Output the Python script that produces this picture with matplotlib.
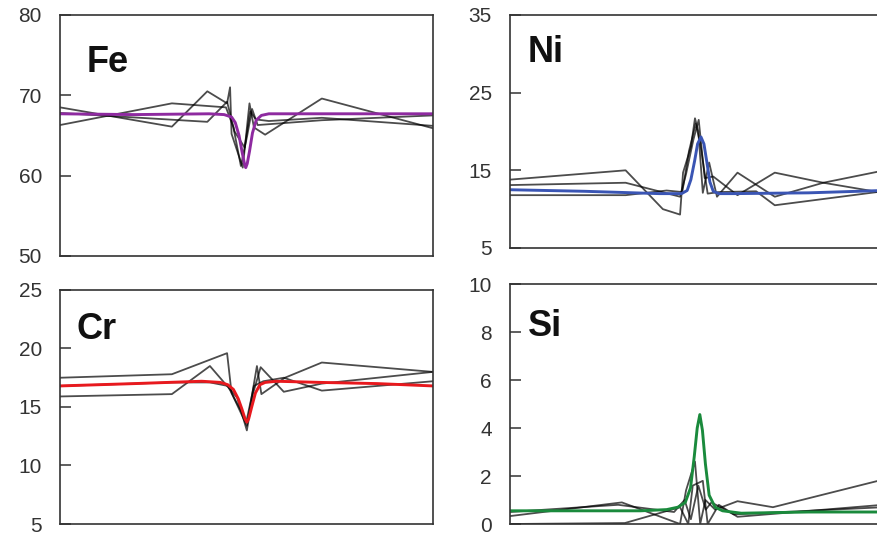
import numpy as np
import matplotlib.pyplot as plt

plt.rcParams['font.family'] = ['Liberation Sans', 'DejaVu Sans']

# --- Fe: three measured line scans + fitted profile ---
fe_x1 = [0, 30, 39.5, 44.8, 45.6, 46.0, 49.0, 50.8, 52.0, 55.0, 70.2, 100]
fe_y1 = [68.5, 66.1, 70.5, 69.0, 71.0, 65.2, 61.0, 69.0, 66.0, 65.1, 69.6, 65.9]
fe_x2 = [0, 30, 44.5, 46.5, 48.5, 50.2, 51.5, 53.0, 70.2, 100]
fe_y2 = [66.3, 69.0, 68.5, 66.0, 61.2, 65.0, 68.3, 66.3, 66.9, 67.5]
fe_x3 = [0, 39.5, 44.8, 46.8, 49.5, 51.0, 52.5, 56.0, 70.2, 100]
fe_y3 = [67.8, 66.7, 69.2, 65.5, 63.5, 68.0, 67.0, 66.8, 67.2, 66.2]
fe_fit_x = [0, 20, 40, 44, 46, 47, 48, 48.8, 49.4, 49.8, 50.2, 50.8, 51.6, 52.6, 54, 56, 60, 80, 100]
fe_fit_y = [67.7, 67.6, 67.7, 67.6, 67.3, 66.6, 65.0, 63.0, 61.6, 61.0, 61.5, 63.0, 65.3, 66.9, 67.5, 67.7, 67.7, 67.7, 67.7]

# --- Ni ---
ni_x1 = [0, 31, 41, 45.6, 46.4, 48.5, 49.6, 50.5, 51.7, 53.4, 55.5, 61, 71, 84, 98.4, 100]
ni_y1 = [13.8, 15.0, 10.0, 9.3, 14.7, 18.0, 21.7, 20.0, 12.1, 16.0, 11.6, 14.7, 11.6, 13.4, 14.8, 14.9]
ni_x2 = [0, 31, 45.6, 47.2, 49.2, 50.6, 52.2, 54.5, 61, 71, 84, 100]
ni_y2 = [13.1, 13.4, 11.6, 14.5, 19.0, 21.5, 14.0, 14.2, 11.8, 14.7, 13.4, 12.1]
ni_x3 = [0, 31, 42, 46.2, 48.0, 49.8, 51.0, 53.0, 56, 66, 71, 100]
ni_y3 = [11.8, 11.8, 12.4, 12.2, 17.5, 21.0, 18.5, 12.0, 12.2, 12.3, 10.5, 12.3]
ni_fit_x = [0, 20, 40, 46, 47.5, 48.5, 49.5, 50.3, 51.2, 52, 52.8, 53.6, 54.5, 56, 60, 80, 100]
ni_fit_y = [12.5, 12.3, 12.0, 12.0, 12.4, 13.8, 16.2, 18.4, 19.3, 18.4, 16.0, 13.5, 12.3, 12.0, 12.0, 12.1, 12.4]

# --- Cr ---
cr_x1 = [0, 30, 44.8, 46.0, 50.1, 52.8, 54.0, 60.3, 70.2, 100]
cr_y1 = [17.5, 17.8, 19.6, 16.2, 13.4, 18.5, 16.1, 17.5, 18.8, 18.0]
cr_x2 = [0, 30, 40.2, 45.6, 47.5, 50.1, 51.8, 53.8, 60.0, 70.2, 100]
cr_y2 = [15.9, 16.1, 18.5, 16.5, 15.8, 13.0, 16.2, 18.4, 16.3, 17.0, 18.0]
cr_x3 = [0, 30, 40.2, 45.0, 48.0, 50.0, 52.0, 54.5, 60.0, 70.2, 100]
cr_y3 = [16.8, 17.1, 17.1, 16.8, 15.0, 13.8, 16.8, 17.2, 17.5, 16.4, 17.2]
cr_fit_x = [0, 20, 38, 43, 45, 46.5, 47.8, 48.8, 49.6, 50.1, 50.6, 51.4, 52.4, 53.6, 55, 58, 70, 85, 100]
cr_fit_y = [16.8, 17.0, 17.2, 17.1, 16.9, 16.5, 15.7, 14.8, 14.0, 13.7, 14.0, 15.0, 16.2, 16.9, 17.1, 17.2, 17.1, 17.0, 16.8]

# --- Si ---
si_x1 = [0, 30, 45.6, 47.2, 49.6, 51.0, 52.4, 55.0, 61.0, 70.5, 100]
si_y1 = [0.33, 0.9, 0.0, 1.4, 2.6, 0.0, 1.0, 0.6, 0.95, 0.7, 1.85]
si_x2 = [0, 30.8, 45.6, 47.8, 49.0, 51.7, 53.0, 56.0, 61.0, 100]
si_y2 = [0.0, 0.04, 0.7, 0.0, 1.6, 1.8, 0.0, 0.8, 0.3, 0.8]
si_x3 = [0, 29, 44.0, 46.8, 48.5, 50.5, 52.5, 54.0, 60.0, 100]
si_y3 = [0.5, 0.8, 0.5, 1.0, 0.2, 1.6, 0.6, 0.9, 0.4, 0.7]
si_fit_x = [0, 20, 35, 42, 45, 47, 48.4, 49.4, 50.2, 50.9, 51.6, 52.4, 53.4, 55, 57, 62, 80, 100]
si_fit_y = [0.55, 0.55, 0.55, 0.6, 0.7, 0.9, 1.5, 2.8, 4.0, 4.56, 3.9, 2.5, 1.2, 0.7, 0.55, 0.45, 0.5, 0.5]

panels = [
    ('Fe', [0.0684, 0.5233, 0.4253, 0.4488], (50, 80), [50, 60, 70, 80],
     [(fe_x1, fe_y1), (fe_x2, fe_y2), (fe_x3, fe_y3)], (fe_fit_x, fe_fit_y), '#8e2aa0', (0.072, 0.875)),
    ('Ni', [0.5815, 0.5382, 0.4253, 0.4339], (5, 35), [5, 15, 25, 35],
     [(ni_x1, ni_y1), (ni_x2, ni_y2), (ni_x3, ni_y3)], (ni_fit_x, ni_fit_y), '#3a55b4', (0.048, 0.915)),
    ('Cr', [0.0684, 0.0242, 0.4253, 0.4358], (5, 25), [5, 10, 15, 20, 25],
     [(cr_x1, cr_y1), (cr_x2, cr_y2), (cr_x3, cr_y3)], (cr_fit_x, cr_fit_y), '#e8191e', (0.045, 0.905)),
    ('Si', [0.5815, 0.0242, 0.4253, 0.4469], (0, 10), [0, 2, 4, 6, 8, 10],
     [(si_x1, si_y1), (si_x2, si_y2), (si_x3, si_y3)], (si_fit_x, si_fit_y), '#1a8a3c', (0.048, 0.895)),
]

fig = plt.figure(figsize=(8.77, 5.37), dpi=100)

for name, rect, ylim, yticks, scans, fit, color, lab in panels:
    ax = fig.add_axes(rect)
    for sx, sy in scans:
        ax.plot(sx, sy, color='black', lw=1.3, alpha=0.7)
    ax.plot(fit[0], fit[1], color=color, lw=2.1)
    ax.set_xlim(0, 100)
    ax.set_ylim(*ylim)
    ax.set_yticks(yticks)
    ax.set_xticks([])
    ax.tick_params(axis='y', direction='in', length=8, width=1.1, pad=13,
                   labelsize=15, colors='#333333')
    for s in ax.spines.values():
        s.set_color('#333333')
        s.set_linewidth(1.2)
    ax.text(lab[0], lab[1], name, transform=ax.transAxes, fontsize=26,
            fontweight='bold', va='top', ha='left', color='#111111')

plt.savefig('out.png', dpi=100)
